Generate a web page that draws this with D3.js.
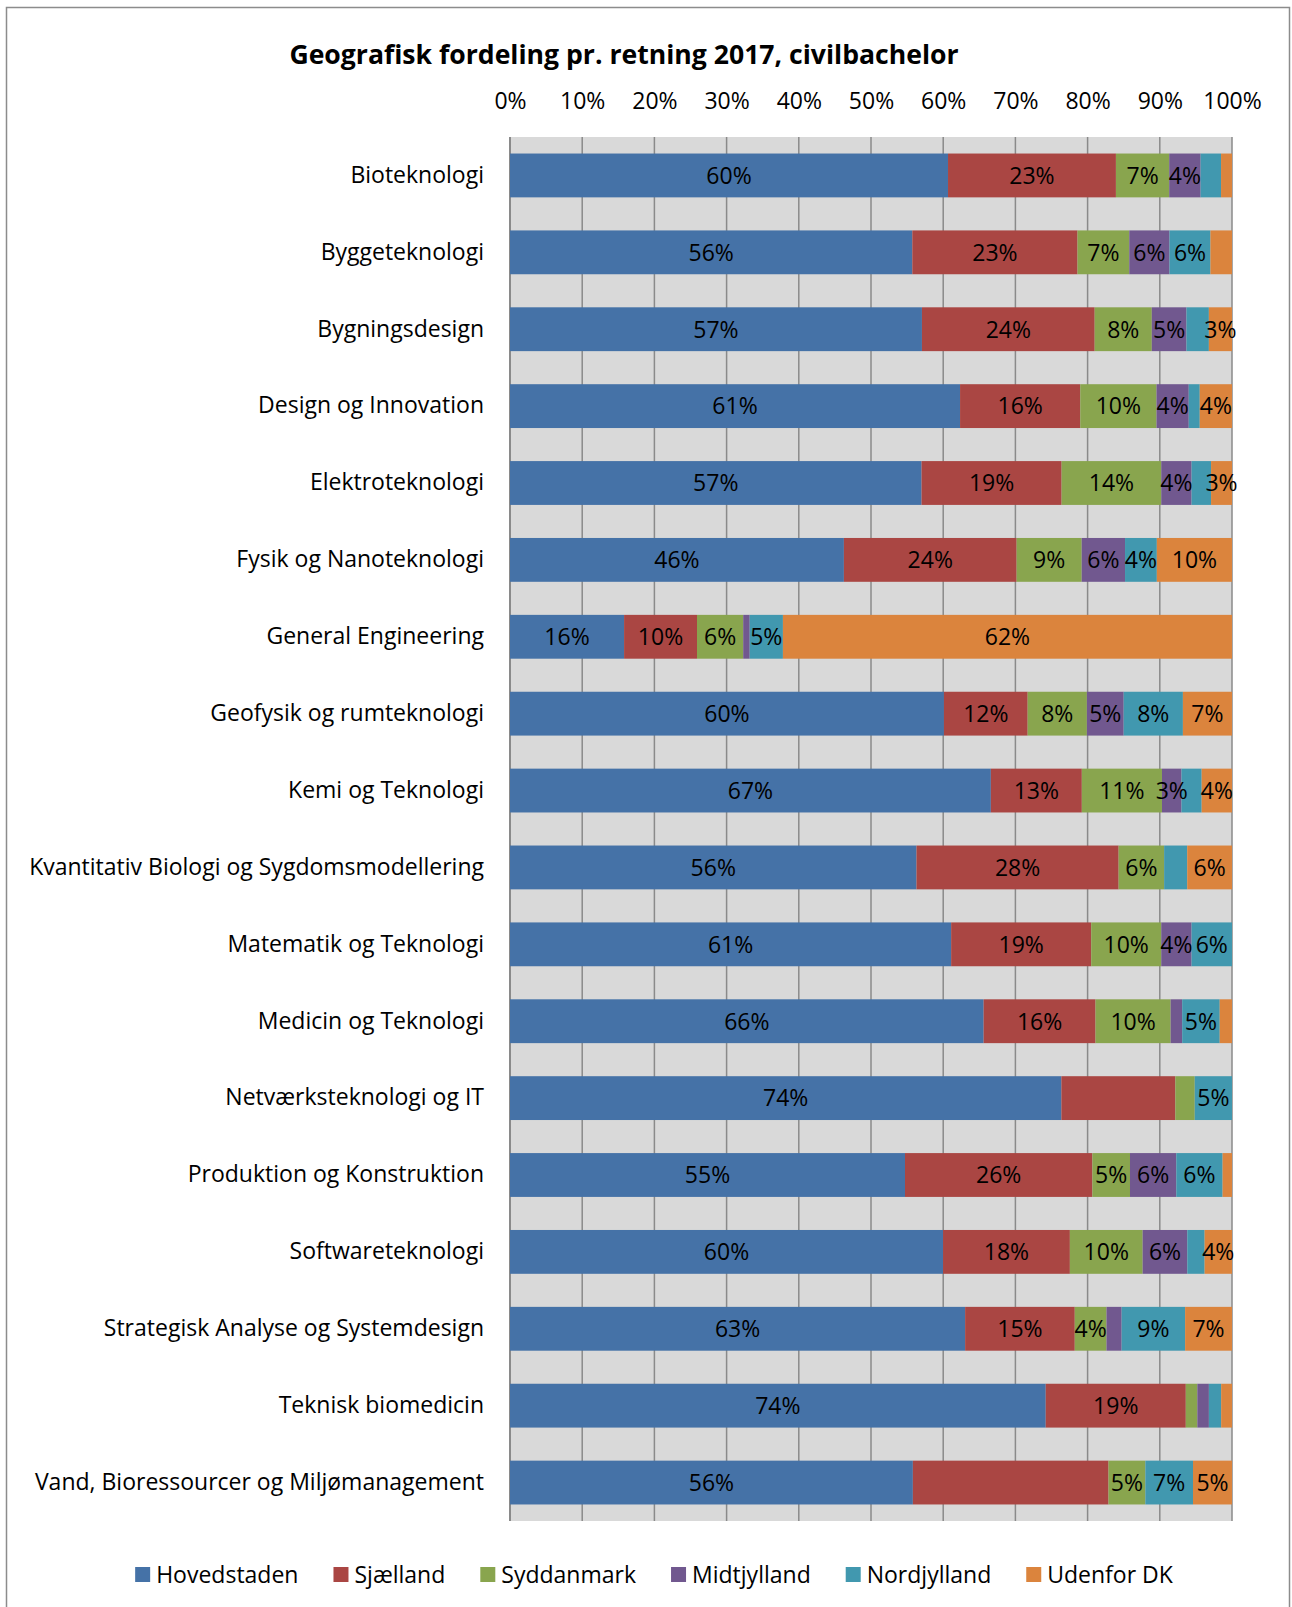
<!DOCTYPE html>
<html>
<head>
<meta charset="utf-8">
<script src="https://cdn.jsdelivr.net/npm/d3@7"></script>
<style>
  body { margin: 0; background: #fff; }
  text { font-family: "Open Sans", Lato, sans-serif; fill: #000; }
</style>
</head>
<body>
<div id="chart"></div>
<script>
// Data (percent)
const CATEGORIES = [
    'Bioteknologi', 'Byggeteknologi', 'Bygningsdesign', 'Design og Innovation',
    'Elektroteknologi', 'Fysik og Nanoteknologi', 'General Engineering',
    'Geofysik og rumteknologi', 'Kemi og Teknologi',
    'Kvantitativ Biologi og Sygdomsmodellering', 'Matematik og Teknologi',
    'Medicin og Teknologi', 'Netværksteknologi og IT', 'Produktion og Konstruktion',
    'Softwareteknologi', 'Strategisk Analyse og Systemdesign', 'Teknisk biomedicin',
    'Vand, Bioressourcer og Miljømanagement'
]
const SERIES = ['Hovedstaden', 'Sjælland', 'Syddanmark', 'Midtjylland', 'Nordjylland', 'Udenfor DK']

const HOVEDSTADEN = [60, 56, 57, 61.4, 57, 46.2, 15.8, 60.1, 66.6, 56.3, 61.1, 65.6, 74, 54.6, 60.1, 63.1, 74.2, 55.8]
const SJAELLAND   = [23, 23, 23.9, 16.4, 19.4, 23.9, 10.1, 11.6, 12.6, 28.0, 19.4, 15.5, 15.3, 25.9, 17.6, 15.2, 19.4, 27.1]
const SYDDANMARK  = [7.3, 7.2, 7.9, 10.4, 13.8, 9.0, 6.4, 8.2, 11.1, 6.3, 9.7, 10.4, 2.6, 5.2, 10.1, 4.4, 1.6, 5.1]
const MIDTJYLLAND = [4.3, 5.6, 4.8, 4.4, 4.2, 6.0, 0.9, 5.1, 2.7, 0, 4.2, 1.6, 0, 6.4, 6.2, 2.1, 1.6, 0]
const NORDJYLLAND = [2.8, 5.7, 3.1, 1.5, 2.7, 4.4, 4.6, 8.2, 2.8, 3.2, 5.6, 5.2, 5.0, 6.4, 2.4, 8.8, 1.7, 6.6]
const UDENFOR_DK  = [1.5, 3.0, 3.2, 4.4, 2.9, 10.4, 62.2, 6.8, 4.2, 6.2, 0, 1.7, 0, 1.3, 3.8, 6.5, 1.5, 5.4]

// segments drawn without a data label: [category index, series index]
const HIDDEN_LABELS = [
    [0, 4], [0, 5], [1, 5], [2, 4], [3, 4], [4, 4], [6, 3], [8, 4], [9, 4],
    [11, 3], [11, 5], [12, 1], [12, 2], [13, 5], [14, 4], [15, 3],
    [16, 2], [16, 3], [16, 4], [16, 5], [17, 1]
]
const X_TICKS = [0, 0.1, 0.2, 0.3, 0.4, 0.5, 0.6, 0.7, 0.8, 0.9, 1]

const COLORS = ['#4572A7', '#AA4643', '#89A54E', '#71588F', '#4198AF', '#DB843D']

// Dimensions
const WIDTH = 1292
const HEIGHT = 1607
const plot = { left: 510, right: 1232, top: 137, bottom: 1521 }
const FONT_SIZE = '23px'
const LABEL_SIZE = '23px'

const svg = d3.select('#chart').append('svg')
    .attr('width', WIDTH)
    .attr('height', HEIGHT)

// outer frame
svg.append('rect')
    .attr('x', 6.5).attr('y', 7.5)
    .attr('width', 1283).attr('height', 1640)
    .attr('fill', 'none')
    .attr('stroke', '#8c8c8c')
    .attr('stroke-width', 1.5)

svg.append('text')
    .attr('x', 624).attr('y', 64)
    .attr('text-anchor', 'middle')
    .style('font-size', '26.6px')
    .style('font-weight', 'bold')
    .text('Geografisk fordeling pr. retning 2017, civilbachelor')

// table built from the series arrays
const allSeries = [HOVEDSTADEN, SJAELLAND, SYDDANMARK, MIDTJYLLAND, NORDJYLLAND, UDENFOR_DK]
const rows = CATEGORIES.map((c, i) => {
    const r = { category: c, index: i }
    SERIES.forEach((s, j) => { r[s] = allSeries[j][i] })
    return r
})

const stacked = d3.stack()
    .keys(SERIES)
    .offset(d3.stackOffsetExpand)(rows)

const x = d3.scaleLinear().domain([0, 1]).range([plot.left, plot.right])
const y = d3.scaleBand()
    .domain(CATEGORIES)
    .range([plot.top, plot.bottom])
    .paddingInner(0.43)
    .paddingOuter(0.215)

// plot background and gridlines
svg.append('rect')
    .attr('x', plot.left).attr('y', plot.top)
    .attr('width', plot.right - plot.left)
    .attr('height', plot.bottom - plot.top)
    .attr('fill', '#D9D9D9')

svg.append('g')
    .selectAll('line').data(X_TICKS).enter().append('line')
    .attr('x1', d => x(d)).attr('x2', d => x(d))
    .attr('y1', plot.top).attr('y2', plot.bottom)
    .attr('stroke', '#8a8a8a')
    .attr('stroke-width', (d) => d === 0 ? 2 : 1.5)

// top axis labels
const xAxis = d3.axisTop(x)
    .tickValues(X_TICKS)
    .tickFormat(d3.format('.0%'))
    .tickSize(0)
    .tickPadding(0)
const axisG = svg.append('g')
    .attr('transform', 'translate(0,109)')
    .call(xAxis)
axisG.select('.domain').remove()
axisG.selectAll('text')
    .attr('dy', 0)
    .style('font-family', '"Open Sans", sans-serif')
    .style('font-size', FONT_SIZE)
    .attr('fill', '#000')

// category labels
const yAxis = d3.axisLeft(y).tickSize(0).tickPadding(0)
const yG = svg.append('g')
    .attr('transform', 'translate(484,0)')
    .call(yAxis)
yG.select('.domain').remove()
yG.selectAll('text')
    .style('font-family', '"Open Sans", sans-serif')
    .style('font-size', LABEL_SIZE)
    .attr('fill', '#000')

// bars
const layers = svg.append('g')
    .selectAll('g').data(stacked).enter().append('g')
    .attr('fill', (d, i) => COLORS[i])

layers.selectAll('rect')
    .data(d => d).enter().append('rect')
    .attr('x', d => x(d[0]))
    .attr('width', d => x(d[1]) - x(d[0]))
    .attr('y', d => y(d.data.category))
    .attr('height', y.bandwidth())

// data labels
const hidden = new Set(HIDDEN_LABELS.map(p => p[0] + ':' + p[1]))
stacked.forEach((layer, j) => {
    svg.append('g')
        .selectAll('text')
        .data(layer.filter(d => d.data[SERIES[j]] > 0 && !hidden.has(d.data.index + ':' + j)))
        .enter().append('text')
        .attr('x', d => (x(d[0]) + x(d[1])) / 2)
        .attr('y', d => y(d.data.category) + y.bandwidth() / 2)
        .attr('dy', '0.36em')
        .attr('text-anchor', 'middle')
        .style('font-size', FONT_SIZE)
        .text(d => Math.round(d.data[SERIES[j]]) + '%')
})

// legend
const legend = svg.append('g')
const items = legend.selectAll('g').data(SERIES).enter().append('g')
items.append('rect')
    .attr('width', 15).attr('height', 15)
    .attr('y', 1567)
    .attr('fill', (d, i) => COLORS[i])
items.append('text')
    .attr('x', 21).attr('y', 1583)
    .style('font-size', LABEL_SIZE)
    .text(d => d)

// lay legend items out from their text widths, centred on the chart
let pos = 0
const offsets = []
items.each(function () {
    offsets.push(pos)
    pos += 21 + d3.select(this).select('text').node().getComputedTextLength() + 35
})
const total = pos - 35
const start = 654 - total / 2
items.attr('transform', (d, i) => 'translate(' + (start + offsets[i]) + ',0)')
</script>
</body>
</html>
